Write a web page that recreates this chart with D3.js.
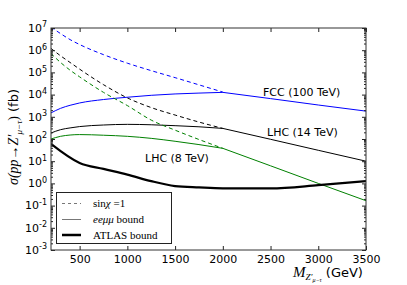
<html>
<script src='https://d3js.org/d3.v7.min.js'></script>
<style>
body {margin:0; background:white;}
text {font-family: "DejaVu Sans", sans-serif; fill: black;}
.serif {font-family: "Liberation Serif", "DejaVu Serif", serif;}
</style>
<body>
<svg width=407 height=285></svg>
<script>
var mass = [200, 300, 400, 500, 750, 1000, 1250, 1500, 1750, 2000];
var massLong = [200, 300, 400, 500, 750, 1000, 1250, 1500, 1750, 2000, 2500, 3000, 3500];
var massAtlas = [200, 500, 750, 1000, 1250, 1500, 1750, 2000, 2500, 3000, 3500];

// cross sections in fb
var fccSin = [1.1e7, 5.6e6, 3.0e6, 1.8e6, 6.3e5, 2.6e5, 1.2e5, 5.8e4, 2.75e4, 1.3e4];
var fccBound = [1.5e3, 2.4e3, 3.3e3, 4.2e3, 6.0e3, 7.6e3, 9.3e3, 1.07e4, 1.17e4, 1.26e4, 6.6e3, 3.4e3, 1.8e3];
var lhc14Sin = [1.2e6, 5.6e5, 2.8e5, 1.4e5, 2.8e4, 7.1e3, 2.6e3, 1.2e3, 580, 300];
var lhc14Bound = [186, 263, 316, 363, 427, 457, 437, 398, 355, 300, 97, 31, 10];
var lhc8Sin = [7.1e5, 2.8e5, 1.26e5, 6.3e4, 1.26e4, 3.2e3, 710, 250, 95, 38];
var lhc8Bound = [100, 132, 151, 158, 148, 132, 107, 79, 56, 38, 6.2, 1.0, 0.166];
var atlas = [60, 8.3, 4.5, 2.5, 1.26, 0.76, 0.66, 0.6, 0.6, 0.83, 1.26];

var xTicks = [500, 1000, 1500, 2000, 2500, 3000, 3500];
var yExponents = [-3, -2, -1, 0, 1, 2, 3, 4, 5, 6, 7];

var pLeft = 51, pRight = 366, pTop = 28, pBottom = 250;
var svg = d3.select("svg");

var x = d3.scaleLinear().domain([200, 3500]).range([pLeft, pRight]);
var y = d3.scaleLog().domain([1e-3, 1e7]).range([pBottom, pTop]);

var majors = yExponents.map(function(e) {return Math.pow(10, e);});
var minors = [];
yExponents.slice(0, -1).forEach(function(e) {
  for (var k = 2; k < 10; k++) minors.push(k * Math.pow(10, e));
});

svg.append("clipPath").attr("id", "plot")
  .append("rect").attr("x", pLeft).attr("y", pTop)
  .attr("width", pRight - pLeft).attr("height", pBottom - pTop);

// curves: smooth up to 2000 GeV, straight beyond
var smooth = d3.line()
  .x(function(d) {return x(d[0]);})
  .y(function(d) {return y(d[1]);})
  .curve(d3.curveMonotoneX);
var straight = d3.line()
  .x(function(d) {return x(d[0]);})
  .y(function(d) {return y(d[1]);});

function pathFor(s) {
  var pts = s.m.map(function(m, i) {return [m, s.v[i]];});
  if (!s.split) return smooth(pts);
  var a = pts.filter(function(p) {return p[0] <= 2000;});
  var b = pts.filter(function(p) {return p[0] >= 2000;});
  return smooth(a) + straight(b).replace("M", "L");
}

var series = [
  {m: mass, v: fccSin, c: "#0000ff", dash: "4,3", w: 1},
  {m: massLong, v: fccBound, c: "#0000ff", dash: null, w: 1, split: true},
  {m: mass, v: lhc14Sin, c: "#000000", dash: "4,3", w: 1},
  {m: massLong, v: lhc14Bound, c: "#000000", dash: null, w: 1, split: true},
  {m: mass, v: lhc8Sin, c: "#008000", dash: "4,3", w: 1},
  {m: massLong, v: lhc8Bound, c: "#008000", dash: null, w: 1, split: true},
  {m: massAtlas, v: atlas, c: "#000000", dash: null, w: 2.2}
];

svg.append("g").attr("clip-path", "url(#plot)")
  .selectAll("path")
  .data(series)
  .enter()
  .append("path")
   .attr("d", pathFor)
   .attr("fill", "none")
   .attr("stroke", function(s) {return s.c;})
   .attr("stroke-width", function(s) {return s.w;})
   .attr("stroke-dasharray", function(s) {return s.dash;});

// axes, ticks pointing inward
svg.append("g")
   .attr("transform", "translate(0," + pBottom + ")")
   .call(d3.axisBottom(x).tickValues(xTicks).tickSize(-4).tickSizeOuter(0).tickPadding(5).tickFormat(d3.format("d")))
   .call(function(g) {g.select(".domain").remove();})
   .selectAll("text").style("font-size", "11px").attr("font-family", "DejaVu Sans");

svg.append("g")
   .attr("transform", "translate(0," + pTop + ")")
   .call(d3.axisTop(x).tickValues(xTicks).tickSize(-4).tickFormat(""))
   .call(function(g) {g.select(".domain").remove();});

var yAxis = svg.append("g")
   .attr("transform", "translate(" + pLeft + ",0)")
   .call(d3.axisLeft(y).tickValues(majors).tickSize(-4).tickPadding(4).tickFormat(""))
   .call(function(g) {g.select(".domain").remove();});

yAxis.selectAll(".tick text")
   .attr("dy", "0.3em")
   .attr("font-family", "DejaVu Sans")
   .style("font-size", "11px")
   .each(function(d) {
     var t = d3.select(this);
     t.append("tspan").text("10");
     t.append("tspan").attr("dy", "-0.55em").style("font-size", "8px")
       .text(String(Math.round(Math.log10(d))));
   });

svg.append("g")
   .attr("transform", "translate(" + pLeft + ",0)")
   .call(d3.axisLeft(y).tickValues(minors).tickSize(-2).tickFormat(""))
   .call(function(g) {g.select(".domain").remove();});

svg.append("g")
   .attr("transform", "translate(" + pRight + ",0)")
   .call(d3.axisRight(y).tickValues(majors).tickSize(-4).tickFormat(""))
   .call(function(g) {g.select(".domain").remove();});

svg.append("g")
   .attr("transform", "translate(" + pRight + ",0)")
   .call(d3.axisRight(y).tickValues(minors).tickSize(-2).tickFormat(""))
   .call(function(g) {g.select(".domain").remove();});

svg.selectAll(".tick line").attr("stroke", "#222");

svg.append("rect")
   .attr("x", pLeft).attr("y", pTop)
   .attr("width", pRight - pLeft).attr("height", pBottom - pTop)
   .attr("fill", "none").attr("stroke", "#333").attr("stroke-width", 1);

// curve labels
svg.append("text").attr("x", 263).attr("y", 96).style("font-size", "11px").text("FCC (100 TeV)");
svg.append("text").attr("x", 267).attr("y", 136).style("font-size", "11px").text("LHC (14 TeV)");
svg.append("text").attr("x", 145).attr("y", 162).style("font-size", "11px").text("LHC (8 TeV)");

// y label
var yl = svg.append("text")
   .attr("transform", "translate(18,137) rotate(-90)")
   .style("text-anchor", "middle");
yl.append("tspan").attr("class", "serif").style("font-size", "14px").style("font-style", "italic").text("σ(pp");
yl.append("tspan").attr("class", "serif").style("font-size", "14px").text("→");
yl.append("tspan").attr("class", "serif").style("font-size", "14px").style("font-style", "italic").text("Z′");
yl.append("tspan").attr("class", "serif").style("font-size", "9px").style("font-style", "italic").attr("dy", 4).text("μ−τ");
yl.append("tspan").attr("class", "serif").style("font-size", "14px").attr("dy", -4).text(")");
yl.append("tspan").style("font-size", "13px").text(" (fb)");

// x label
var xl = svg.append("text").attr("x", 293).attr("y", 277);
xl.append("tspan").attr("class", "serif").style("font-size", "15px").style("font-style", "italic").text("M");
xl.append("tspan").attr("class", "serif").style("font-size", "9px").style("font-style", "italic").attr("dy", 3).text("Z′");
xl.append("tspan").attr("class", "serif").style("font-size", "6px").style("font-style", "italic").attr("dy", 2).text("μ−τ");
xl.append("tspan").style("font-size", "13px").attr("dy", -5).text(" (GeV)");

// legend
var legend = svg.append("g");
legend.append("rect")
   .attr("x", 56.5).attr("y", 192.5).attr("width", 115).attr("height", 51)
   .attr("fill", "white").attr("stroke", "#222").attr("stroke-width", 1);

var legendItems = [
  {dash: "3,3", w: 1, c: "#777", y: 203.5},
  {dash: null, w: 1, c: "#777", y: 219.5},
  {dash: null, w: 2.5, c: "#000", y: 235}
];
legend.selectAll("line")
   .data(legendItems)
   .enter()
   .append("line")
    .attr("x1", 62).attr("x2", 81)
    .attr("y1", function(d) {return d.y;}).attr("y2", function(d) {return d.y;})
    .attr("stroke", function(d) {return d.c;})
    .attr("stroke-width", function(d) {return d.w;})
    .attr("stroke-dasharray", function(d) {return d.dash;});

var l1 = legend.append("text").attr("class", "serif").attr("x", 93).attr("y", 207).style("font-size", "11px");
l1.append("tspan").text("sin");
l1.append("tspan").style("font-style", "italic").text("χ");
l1.append("tspan").text(" =1");
var l2 = legend.append("text").attr("class", "serif").attr("x", 93).attr("y", 223).style("font-size", "11px");
l2.append("tspan").style("font-style", "italic").text("eeμμ");
l2.append("tspan").text(" bound");
legend.append("text").attr("class", "serif").attr("x", 93).attr("y", 239).style("font-size", "11px").text("ATLAS bound");
</script>
</body>
</html>
